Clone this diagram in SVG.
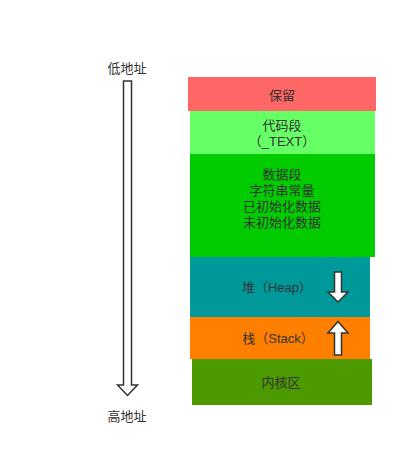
<svg xmlns="http://www.w3.org/2000/svg" width="408" height="467" viewBox="0 0 408 467">
<style>
text{font-family:"Liberation Sans","Noto Sans CJK SC",sans-serif;font-size:13px;fill:#333;text-anchor:middle;dominant-baseline:central}
.arr{fill:#fff;stroke:#333;stroke-width:1.5;stroke-linejoin:miter}
</style>
<rect width="408" height="467" fill="#fff"/>
<g id="reserved"><rect x="188" y="77" width="188" height="34" fill="#ff6666"/><text x="282" y="95">保留</text></g>
<g id="text-seg"><rect x="190" y="111" width="185" height="43" fill="#66ff66"/><text x="282" y="125">代码段</text><text x="282" y="141">（_TEXT）</text></g>
<g id="data-seg"><rect x="190" y="154" width="185" height="103" fill="#00cc00"/><text x="282" y="174">数据段</text><text x="282" y="190">字符串常量</text><text x="282" y="206">已初始化数据</text><text x="282" y="222">未初始化数据</text></g>
<g id="heap"><rect x="190" y="257" width="180" height="60" fill="#009999"/><text x="277" y="287">堆（Heap）</text></g>
<g id="stack"><rect x="190" y="317" width="180" height="42" fill="#ff8000"/><text x="278" y="338">栈（Stack）</text></g>
<g id="kernel"><rect x="192" y="359" width="180" height="46" fill="#4d9900"/><text x="281" y="382">内核区</text></g>
<g id="labels"><text x="127" y="68">低地址</text><text x="127" y="416">高地址</text></g>
<g id="connectors">
<path class="arr" d="M123.5 81H131.5V385H137.5L127.5 395.5L117.5 385H123.5Z"/>
<path class="arr" d="M334.5 272H341.5V292H348L338 302L328 292H334.5Z"/>
<path class="arr" d="M334.5 355H341.5V333H348L338 321.5L328 333H334.5Z"/>
</g>
</svg>
